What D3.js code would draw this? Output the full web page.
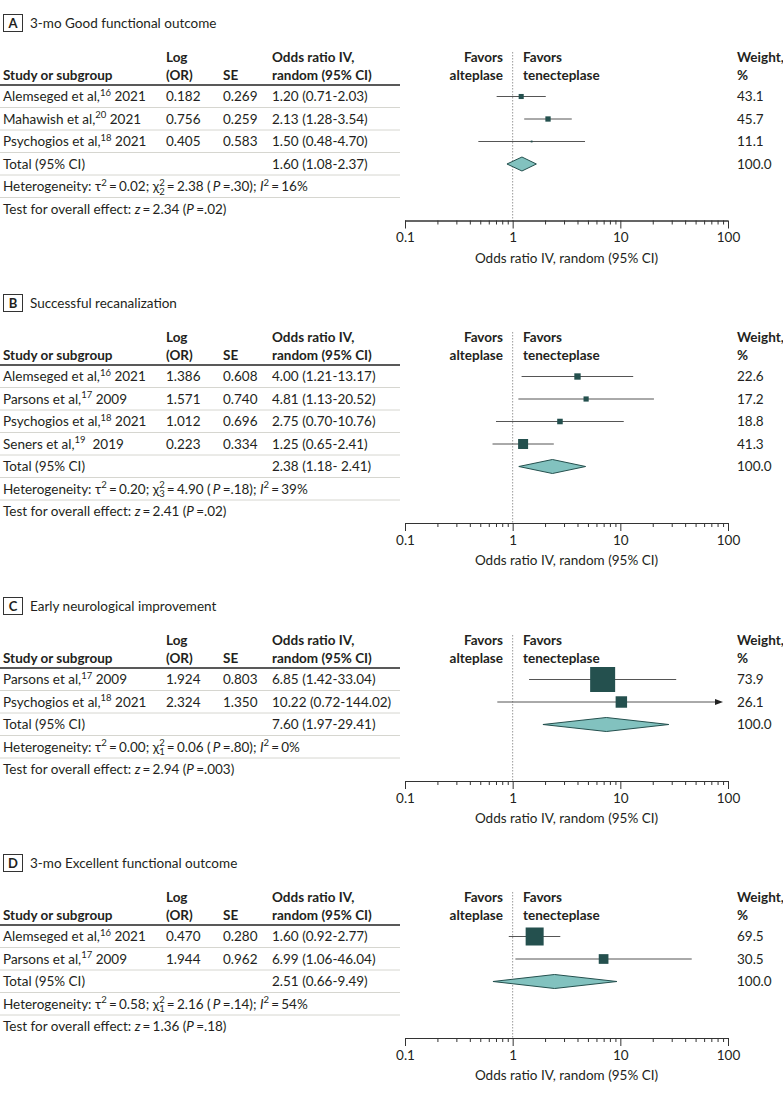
<!DOCTYPE html>
<html><head><meta charset="utf-8">
<script src="https://cdn.jsdelivr.net/npm/d3@7"></script>
<style>
body{margin:0;background:#fff;}
svg{display:block;font-family:Lato,"Open Sans",sans-serif;}
text{fill:#231f20;white-space:pre;}
</style></head>
<body><svg id="chart" width="783" height="1095"></svg>
<script>
// ---------- DATA ----------
const panelLetters = ["A","B","C","D"];
const panelTitles = ["3-mo Good functional outcome","Successful recanalization","Early neurological improvement","3-mo Excellent functional outcome"];

const studyNames = [
  ["Alemseged et al,","Mahawish et al,","Psychogios et al,"],
  ["Alemseged et al,","Parsons et al,","Psychogios et al,","Seners et al,"],
  ["Parsons et al,","Psychogios et al,"],
  ["Alemseged et al,","Parsons et al,"]
];
const studyRefs = [["16","20","18"],["16","17","18","19"],["17","18"],["16","17"]];
const studyYears = [["2021","2021","2021"],["2021","2009","2021"," 2019"],["2009","2021"],["2021","2009"]];
const logOR = [["0.182","0.756","0.405"],["1.386","1.571","1.012","0.223"],["1.924","2.324"],["0.470","1.944"]];
const seVals = [["0.269","0.259","0.583"],["0.608","0.740","0.696","0.334"],["0.803","1.350"],["0.280","0.962"]];
const oddsRatio = [[1.20,2.13,1.50],[4.00,4.81,2.75,1.25],[6.85,10.22],[1.60,6.99]];
const ciLow = [[0.71,1.28,0.48],[1.21,1.13,0.70,0.65],[1.42,0.72],[0.92,1.06]];
const ciHigh = [[2.03,3.54,4.70],[13.17,20.52,10.76,2.41],[33.04,144.02],[2.77,46.04]];
const ciLabels = [
  ["1.20 (0.71-2.03)","2.13 (1.28-3.54)","1.50 (0.48-4.70)"],
  ["4.00 (1.21-13.17)","4.81 (1.13-20.52)","2.75 (0.70-10.76)","1.25 (0.65-2.41)"],
  ["6.85 (1.42-33.04)","10.22 (0.72-144.02)"],
  ["1.60 (0.92-2.77)","6.99 (1.06-46.04)"]
];
const weights = [[43.1,45.7,11.1],[22.6,17.2,18.8,41.3],[73.9,26.1],[69.5,30.5]];
// pooled diamonds as drawn in the figure
const totalOR = [1.22,2.34,7.41,2.45];
const totalLow = [0.885,1.14,1.91,0.656];
const totalHigh = [1.66,4.76,28.2,9.3];
const totalLabels = ["1.60 (1.08-2.37)","2.38 (1.18- 2.41)","7.60 (1.97-29.41)","2.51 (0.66-9.49)"];
const tau2 = ["0.02","0.20","0.00","0.58"];
const chi2 = ["2.38","4.90","0.06","2.16"];
const chiDf = ["2","3","1","1"];
const hetP = [".30",".18",".80",".14"];
const i2 = ["16","39","0","54"];
const zVals = ["2.34","2.41","2.94","1.36"];
const zP = [".02",".02",".003",".18"];
const axisTicks = [0.1,1,10,100];
const axisTickLabels = ["0.1","1","10","100"];

// ---------- LAYOUT / STYLE ----------
const headerLines = [85,365,668,925];
const maxBox = [5.3,10,25,18];
const rowStep = 22.5;
const FS = 13.5;
const svg = d3.select("#chart");
const x = d3.scaleLog().domain([0.1,100]).range([405,728]);
const dark = "#24504e";
const GAP = 2.2;

function rich(g, xx, y, segs) {
  const t = g.append("text").attr("x",xx).attr("y",y).attr("font-size",FS);
  let cur = 0;
  segs.forEach(s => {
    if (s.supsub) {
      const a = t.append("tspan").text(s.t).attr("font-size",9.5).attr("dy",-5.5 - cur);
      const w = a.node().getComputedTextLength();
      t.append("tspan").text(s.supsub).attr("font-size",9.5).attr("dx",-w).attr("dy",9);
      cur = 3.5;
      return;
    }
    const target = s.sup ? -5.5 : 0;
    const ts = t.append("tspan").text(s.t).attr("dy", target - cur);
    cur = target;
    if (s.dx) ts.attr("dx", s.dx);
    if (s.sup) ts.attr("font-size", 9.5);
    if (s.it) ts.attr("font-style","italic");
  });
  return t;
}
const eq = (val, after=true) => [{t:"=",dx:GAP},{t:val,dx:after?GAP:0}];

panelLetters.forEach((L, p) => {
  const h = headerLines[p];
  const g = svg.append("g");
  const n = studyNames[p].length;
  const row = i => h + 11.5 + rowStep * i;
  const axisY = h + rowStep * n + 68;

  // panel label
  g.append("rect").attr("x",3.5).attr("y",h-70.5).attr("width",19).attr("height",17)
    .attr("fill","none").attr("stroke","#333").attr("stroke-width",1);
  g.append("text").attr("x",13).attr("y",h-57.5).attr("text-anchor","middle")
    .attr("font-size",13).attr("font-weight","bold").text(L);
  g.append("text").attr("x",30).attr("y",h-57).attr("font-size",FS).text(panelTitles[p]);

  // headers
  const hy1 = h - 23, hy2 = h - 5.5;
  const bold = (xx, y, s, anchor) => g.append("text").attr("x",xx).attr("y",y)
      .attr("font-size",FS).attr("font-weight","bold").attr("text-anchor",anchor||"start").text(s);
  bold(3,hy2,"Study or subgroup");
  bold(166,hy1,"Log"); bold(166,hy2,"(OR)");
  bold(223,hy2,"SE");
  bold(272,hy1,"Odds ratio IV,"); bold(272,hy2,"random (95% CI)");
  bold(503,hy1,"Favors","end"); bold(503,hy2,"alteplase","end");
  bold(523,hy1,"Favors"); bold(523,hy2,"tenecteplase");
  bold(737,hy1,"Weight,"); bold(737,hy2,"%");

  // table lines
  g.append("line").attr("x1",0).attr("x2",400).attr("y1",h).attr("y2",h)
    .attr("stroke","#222").attr("stroke-width",1.3);
  for (let k = 1; k <= n + 2; k++) {
    const yy = h + rowStep * k;
    g.append("line").attr("x1",0).attr("x2",400).attr("y1",yy).attr("y2",yy)
      .attr("stroke","#d6d6d0").attr("stroke-width",1);
  }

  // null line
  g.append("line").attr("x1",x(1)).attr("x2",x(1)).attr("y1",h-33).attr("y2",axisY)
    .attr("stroke","#999").attr("stroke-width",1).attr("stroke-dasharray","1.5,1.5");

  const base = y => y + 4.8;
  const box = d3.scalePow().exponent(0.75).domain([0, d3.max(weights[p])]).range([0, maxBox[p]]);

  studyNames[p].forEach((nm, i) => {
    const y = row(i);
    rich(g, 3, base(y), [{t:nm},{t:studyRefs[p][i],sup:true},{t:" "+studyYears[p][i]}]);
    g.append("text").attr("x",166).attr("y",base(y)).attr("font-size",FS).text(logOR[p][i]);
    g.append("text").attr("x",223).attr("y",base(y)).attr("font-size",FS).text(seVals[p][i]);
    g.append("text").attr("x",272).attr("y",base(y)).attr("font-size",FS).text(ciLabels[p][i]);
    g.append("text").attr("x",737).attr("y",base(y)).attr("font-size",FS).text(weights[p][i].toFixed(1));
    const over = ciHigh[p][i] > 100;
    const x2 = over ? x(100) - 12 : x(ciHigh[p][i]);
    g.append("line").attr("x1",x(ciLow[p][i])).attr("x2",x2).attr("y1",y).attr("y2",y)
      .attr("stroke","#555").attr("stroke-width",1);
    if (over) {
      const tip = x(100) - 5;
      g.append("path").attr("d",`M${tip},${y} L${tip-8},${y-3} L${tip-8},${y+3} Z`).attr("fill","#222");
    }
    const s = box(weights[p][i]);
    g.append("rect").attr("x",x(oddsRatio[p][i]) - s/2).attr("y",y - s/2)
      .attr("width",s).attr("height",s).attr("fill",dark);
  });

  // total row
  const ty = row(n);
  g.append("text").attr("x",3).attr("y",base(ty)).attr("font-size",FS).text("Total (95% CI)");
  g.append("text").attr("x",272).attr("y",base(ty)).attr("font-size",FS).text(totalLabels[p]);
  g.append("text").attr("x",737).attr("y",base(ty)).attr("font-size",FS).text("100.0");
  const dh = 7;
  g.append("path").attr("d",`M${x(totalLow[p])},${ty} L${x(totalOR[p])},${ty-dh} L${x(totalHigh[p])},${ty} L${x(totalOR[p])},${ty+dh} Z`)
    .attr("fill","#82c2bf").attr("stroke",dark).attr("stroke-width",1);

  // heterogeneity
  rich(g, 3, base(row(n+1)), [
    {t:"Heterogeneity: τ"},{t:"2",sup:true},...eq(tau2[p]+"; χ"),
    {t:"2",supsub:chiDf[p]},...eq(chi2[p]+" ("),{t:"P",it:true,dx:GAP},...eq(hetP[p]+"); ",false),
    {t:"I",it:true},{t:"2",sup:true},...eq(i2[p]+"%")
  ]);
  rich(g, 3, base(row(n+2)), [
    {t:"Test for overall effect: "},{t:"z",it:true},...eq(zVals[p]+" ("),{t:"P",it:true},{t:"",dx:GAP},...eq(zP[p]+")",false)
  ]);

  // axis
  const minor = [];
  [0.1,1,10].forEach(d => { for (let k=2;k<=9;k++) minor.push(d*k); });
  const ax = g.append("g").attr("transform",`translate(0,${axisY})`);
  ax.call(d3.axisBottom(x).tickValues(minor).tickSize(4).tickFormat(""));
  ax.append("g").call(d3.axisBottom(x).tickValues(axisTicks).tickSize(8)
      .tickFormat((d,i) => axisTickLabels[i]));
  ax.selectAll("path.domain").attr("stroke","#333").attr("d",`M${x(0.1)},0.5H${x(100)}`);
  ax.selectAll(".tick line").attr("stroke","#333");
  ax.selectAll(".tick text").attr("font-size",FS).attr("font-family","Lato,sans-serif").attr("fill","#231f20").attr("y",12);
  g.append("text").attr("x",(x(0.1)+x(100))/2).attr("y",axisY+42).attr("text-anchor","middle")
    .attr("font-size",FS).text("Odds ratio IV, random (95% CI)");
});
</script></body></html>
